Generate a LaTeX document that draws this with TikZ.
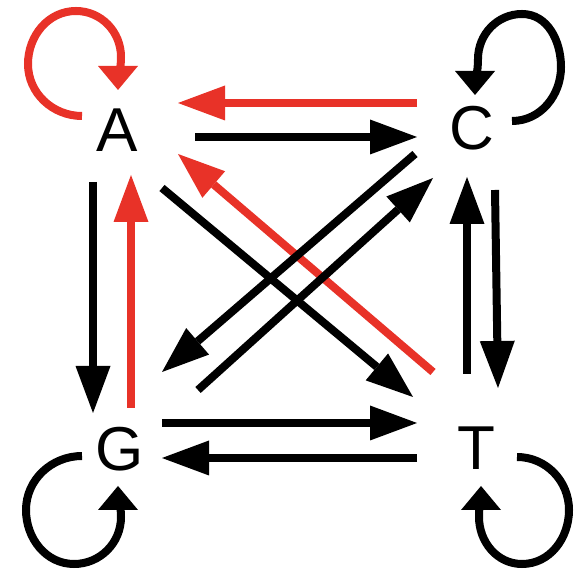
\documentclass[tikz,border=0pt]{standalone}
\usepackage{fontspec}
\setmainfont{Liberation Sans}
\usetikzlibrary{arrows.meta}
\definecolor{myred}{RGB}{232,50,40}
\tikzset{
  lbl/.style={inner sep=0pt, font=\fontsize{62}{70}\selectfont},
  conn/.style={line width=8pt, -{Triangle[length=47pt,width=35pt,line width=0pt]}},
  selfl/.style={line width=8pt, -{Triangle[length=24pt,width=40pt,line width=0pt]}},
  redc/.style={draw=myred, color=myred},
}
\begin{document}
\begin{tikzpicture}[x=1pt,y=1pt]
\useasboundingbox (0,0) rectangle (575,572);
\node[lbl] (A) at (117,442) {A};
\node[lbl] (C) at (472,444) {C};
\node[lbl] (G) at (120,123) {G};
\node[lbl] (T) at (476,124) {T};
% horizontal top
\draw[conn,redc] ([shift={(-55,25)}]C.center) -- ([shift={(61,27)}]A.center);
\draw[conn] ([shift={(78,-7)}]A.center) -- ([shift={(-55,-9)}]C.center);
% left vertical
\draw[conn] ([shift={(-24,-52)}]A.center) -- ([shift={(-27,36)}]G.center);
\draw[conn,redc] ([shift={(11,41)}]G.center) -- ([shift={(14,-45)}]A.center);
% right vertical
\draw[conn] ([shift={(23,-62)}]C.center) -- ([shift={(22,60)}]T.center);
\draw[conn] ([shift={(-9,74)}]T.center) -- ([shift={(-5,-49)}]C.center);
% bottom horizontal
\draw[conn] ([shift={(42,26)}]G.center) -- ([shift={(-59,25)}]T.center);
\draw[conn] ([shift={(-59,-10)}]T.center) -- ([shift={(42,-9)}]G.center);
% diagonals
\draw[conn] ([shift={(45,-58)}]A.center) -- ([shift={(-63,51)}]T.center);
\draw[conn,redc] ([shift={(-43,76)}]T.center) -- ([shift={(61,-24)}]A.center);
\draw[conn] ([shift={(-57,-26)}]C.center) -- ([shift={(42,77)}]G.center);
\draw[conn] ([shift={(78,59)}]G.center) -- ([shift={(-39,-50)}]C.center);
% self loops
\draw[selfl,redc] ([shift={(-35,14)}]A.center) to[out=180,in=270] (28,508)
  to[out=90,in=180] (76,561) to[out=0,in=90] (121,515)
  to[out=-90,in=90] ([shift={(1,40)}]A.center);
\draw[selfl] ([shift={(40,7)}]C.center) to[out=0,in=270] (561,505)
  to[out=90,in=0] (522,558) to[out=180,in=90] (478,513)
  to[out=270,in=90] ([shift={(3,33)}]C.center);
\draw[selfl] ([shift={(-38,-7)}]G.center) to[out=180,in=90] (26,62)
  to[out=270,in=180] (74,8) to[out=0,in=270] (121,55)
  to[out=90,in=270] ([shift={(-2,-37)}]G.center);
\draw[selfl] ([shift={(41,-9)}]T.center) to[out=0,in=90] (569,62)
  to[out=270,in=0] (522,8) to[out=180,in=270] (479,55)
  to[out=90,in=270] ([shift={(5,-38)}]T.center);
\end{tikzpicture}
\end{document}
